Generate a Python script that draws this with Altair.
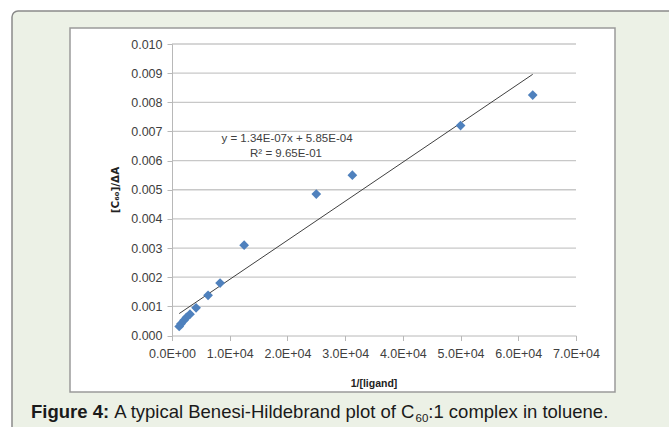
import altair as alt
import pandas as pd

# ---- data ----
x_vals = [62500, 50000, 31250, 25000, 12500, 8330, 6250, 4170, 3120, 2500, 2080, 1560, 1250]
y_vals = [0.00825, 0.00720, 0.00550, 0.00485, 0.00310, 0.00180, 0.00138, 0.00095,
          0.00073, 0.00062, 0.00052, 0.00040, 0.00031]
slope = 1.34e-7
intercept = 5.85e-4
x_ticks = [0, 10000, 20000, 30000, 40000, 50000, 60000, 70000]
y_ticks = [0.000, 0.001, 0.002, 0.003, 0.004, 0.005, 0.006, 0.007, 0.008, 0.009, 0.010]
eq_text = "y = 1.34E-07x + 5.85E-04"
r2_text = "R² = 9.65E-01"
x_title = "1/[ligand]"
y_title = "[C₆₀]/ΔA"
cap_bold = "Figure 4:"
cap_a = "A typical Benesi-Hildebrand plot of C"
cap_sub = "60"
cap_b = ":1 complex in toluene."

W, H = 404, 291.5

pts = pd.DataFrame({"x": x_vals, "y": y_vals})
fit_x = [min(x_vals), max(x_vals)]
fit = pd.DataFrame({"x": fit_x, "y": [slope * v + intercept for v in fit_x]})
grid = pd.DataFrame({"y": y_ticks[1:]})
one = pd.DataFrame({"k": [0]})

xscale = alt.Scale(domain=[0, 70000], nice=False, zero=True)
yscale = alt.Scale(domain=[0, 0.010], nice=False, zero=True)

x_axis = alt.Axis(values=x_ticks, grid=False, title=None,
                  labelExpr="datum.value == 0 ? '0.0E+00' : format(datum.value/10000, '.1f') + 'E+04'",
                  labelFont="Liberation Sans", labelFontSize=12.5, labelColor="#404040",
                  labelOverlap=False, labelFlush=False,
                  labelPadding=7, domainColor="#b8b8b8", tickColor="#b8b8b8", tickSize=5,
                  domainWidth=1, tickWidth=1, zindex=1)
y_axis = alt.Axis(values=y_ticks, grid=False, title=None, format=".3f",
                  labelFont="Liberation Sans", labelFontSize=12.5, labelColor="#404040",
                  labelOverlap=False, labelFlush=False,
                  labelPadding=5, domainColor="#b8b8b8", tickColor="#b8b8b8", tickSize=5,
                  domainWidth=1, tickWidth=1, zindex=1)

X = alt.X("x:Q", scale=xscale, axis=x_axis)
Y = alt.Y("y:Q", scale=yscale, axis=y_axis)

outer = alt.Chart(one).mark_rect(fill="#ECF1E6", stroke="#8a8a8a", strokeWidth=1.5,
                                 cornerRadius=6).encode(
    x=alt.value(-160), x2=alt.value(520), y=alt.value(-33), y2=alt.value(400))
inner = alt.Chart(one).mark_rect(fill="white", stroke="#9a9a9a", strokeWidth=1.5).encode(
    x=alt.value(-102), x2=alt.value(443), y=alt.value(-16), y2=alt.value(348))

gridlines = alt.Chart(grid).mark_rule(color="#c8c8c8", strokeWidth=1.3).encode(
    y=Y, x=alt.value(0), x2=alt.value(W))

fitline = alt.Chart(fit).mark_line(color="#404040", strokeWidth=1).encode(x=X, y=Y)

points = alt.Chart(pts).mark_point(shape="diamond", filled=True, size=95,
                                   color="#4F81BD", opacity=1).encode(x=X, y=Y)


def txt(s, x, y, size, bold=False, align="left", color="#222", angle=0, font="Liberation Sans",
        baseline="alphabetic"):
    kw = dict(text=s, fontSize=size, align=align, color=color, font=font, baseline=baseline,
              fontWeight="bold" if bold else "normal")
    if angle:
        kw["angle"] = angle
    return alt.Chart(one).mark_text(**kw).encode(x=alt.value(x), y=alt.value(y))


eq1 = txt(eq_text, 115, 98, 11.5, align="center", color="#404040")
eq2 = txt(r2_text, 114, 113, 11.5, align="center", color="#404040")
xt = txt(x_title, 202, 343, 10.5, bold=True, align="center", color="#222")
yt = txt(y_title, -56, 146, 10.5, bold=True, align="center", color="#222", angle=270,
         baseline="middle", font="DejaVu Sans")

cs = 18.5
cy = 374
c0 = -141
c1 = c0 + 78.1 + 5.1
c2 = c0 + 78.1 + 306.4
c3 = c2 + 12.8
cap1 = txt(cap_bold, c0, cy, cs, bold=True, color="#1a1a1a")
cap2 = txt(cap_a, c1, cy, cs, color="#1a1a1a")
cap3 = txt(cap_sub, c2, cy + 4, 11.5, color="#1a1a1a")
cap4 = txt(cap_b, c3, cy, cs, color="#1a1a1a")

chart = alt.layer(outer, inner, gridlines, fitline, points, eq1, eq2, xt, yt,
                  cap1, cap2, cap3, cap4).properties(
    width=W, height=H,
    autosize=alt.AutoSizeParams(type="none"),
    padding={"left": 172, "top": 44, "right": 93, "bottom": 91.5},
    background="white",
).configure_view(stroke=None)

chart.save("out.html", embed_options={"renderer": "svg", "actions": False})
